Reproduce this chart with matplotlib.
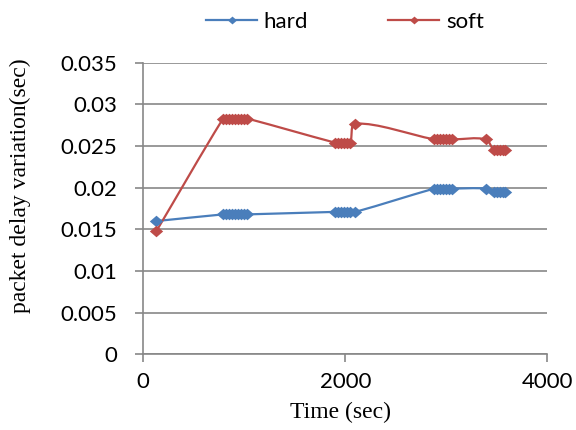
import matplotlib
matplotlib.use("Agg")
import matplotlib.pyplot as plt
import numpy as np
from matplotlib.path import Path
from matplotlib.patches import PathPatch
from matplotlib.lines import Line2D

# measurement times (sec), shared by both series
time_s = [130,
          790, 820, 850, 880, 910, 940, 970, 1000, 1030,
          1900, 1930, 1960, 1990, 2020, 2050, 2100,
          2880, 2910, 2940, 2970, 3000, 3030, 3060,
          3390,
          3470, 3500, 3530, 3560, 3580]

hard = [0.0160,
        0.0168, 0.0168, 0.0168, 0.0168, 0.0168, 0.0168, 0.0168, 0.0168, 0.0168,
        0.0171, 0.0171, 0.0171, 0.0171, 0.0171, 0.0171, 0.0171,
        0.0199, 0.0199, 0.0199, 0.0199, 0.0199, 0.0199, 0.0199,
        0.0199,
        0.0195, 0.0195, 0.0195, 0.0195, 0.0195]

soft = [0.0148,
        0.0283, 0.0283, 0.0283, 0.0283, 0.0283, 0.0283, 0.0283, 0.0283, 0.0283,
        0.0254, 0.0254, 0.0254, 0.0254, 0.0254, 0.0254, 0.0277,
        0.0258, 0.0258, 0.0258, 0.0258, 0.0258, 0.0258, 0.0258,
        0.0258,
        0.0245, 0.0245, 0.0245, 0.0245, 0.0245]

yticks = [0, 0.005, 0.01, 0.015, 0.02, 0.025, 0.03, 0.035]
ytick_labels = ["0", "0.005", "0.01", "0.015", "0.02", "0.025", "0.03", "0.035"]
xticks = [0, 2000, 4000]

blue = "#4A7EBB"
red = "#BE4B48"
gray = "#878787"
tickfont = {"family": "Lato", "size": 16}
serif = {"family": "Liberation Serif", "size": 17}

# slightly wide diamond, like the office chart marker
diamond = [(-1.15, 0), (0, 1), (1.15, 0), (0, -1), (-1.15, 0)]


def smooth_path(ax, xs, ys):
    # smoothed line: cubic bezier through every point, tangent arms
    # scaled by the neighbouring segment lengths (in screen space)
    pts = ax.transData.transform(np.column_stack([xs, ys]).astype(float))
    n = len(pts)
    d = np.hypot(*np.diff(pts, axis=0).T)
    verts = [pts[0]]
    codes = [Path.MOVETO]
    for i in range(n - 1):
        p1, p2 = pts[i], pts[i + 1]
        if i > 0:
            t1 = (p2 - pts[i - 1]) * d[i] / (d[i - 1] + d[i] + 1e-9) / 3.0
        else:
            t1 = (p2 - p1) / 3.0
        if i + 2 < n:
            t2 = (pts[i + 2] - p1) * d[i] / (d[i] + d[i + 1] + 1e-9) / 3.0
        else:
            t2 = (p2 - p1) / 3.0
        verts += [p1 + t1, p2 - t2, p2]
        codes += [Path.CURVE4] * 3
    verts = ax.transData.inverted().transform(np.array(verts))
    return Path(verts, codes)


fig = plt.figure(figsize=(5.76, 4.30), dpi=100)
ax = fig.add_axes([143.3 / 576, 1 - 354.4 / 430, (547.3 - 143.3) / 576, (354.4 - 62.7) / 430])
ax.set_xlim(0, 4000)
ax.set_ylim(0, 0.035)

for ys, col in [(hard, blue), (soft, red)]:
    p = smooth_path(ax, time_s, ys)
    ax.add_patch(PathPatch(p, fill=False, edgecolor=col, lw=1.6, zorder=3))
    ax.plot(time_s, ys, linestyle="none", marker=diamond, ms=9.6, color=col,
            markeredgewidth=0, zorder=4)

ax.set_yticks(yticks)
ax.set_yticklabels(ytick_labels, **tickfont)
ax.set_xticks(xticks)
ax.set_xticklabels([str(t) for t in xticks], **tickfont)
ax.grid(axis="y", color=gray, lw=1.2)
ax.set_axisbelow(True)
for s in ["top", "right"]:
    ax.spines[s].set_visible(False)
for s in ["left", "bottom"]:
    ax.spines[s].set_color(gray)
    ax.spines[s].set_linewidth(1.2)
ax.tick_params(axis="both", color=gray, width=1.2, length=6)
ax.tick_params(axis="y", pad=13)
ax.tick_params(axis="x", pad=7)

fig.text(340 / 576, 1 - 412 / 430, "Time (sec)", ha="center", va="center", **serif)
fig.text(20 / 576, 1 - 185.5 / 430, "packet delay variation(sec)", ha="center", va="center",
         rotation=90, **serif)

handles = [Line2D([], [], color=blue, lw=1.6, marker=diamond, ms=6.5, markeredgewidth=0),
           Line2D([], [], color=red, lw=1.6, marker=diamond, ms=6.5, markeredgewidth=0)]
fig.legend(handles, ["hard", "soft"], loc="center", bbox_to_anchor=(345 / 576, 1 - 22 / 430),
           ncol=2, frameon=False, prop={"family": "Lato", "size": 16},
           handlelength=2.3, handletextpad=0.3, columnspacing=3.6)

fig.savefig("out.png", dpi=100)
